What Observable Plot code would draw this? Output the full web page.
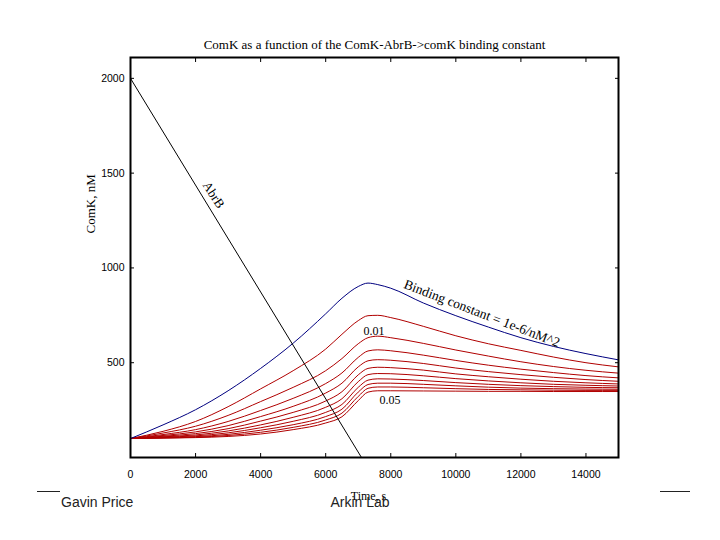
<!DOCTYPE html>
<html>
<head>
<meta charset="utf-8">
<script src="https://cdn.jsdelivr.net/npm/d3@7"></script>
<script src="https://cdn.jsdelivr.net/npm/@observablehq/plot@0.6"></script>
<style>
  html, body { margin: 0; padding: 0; background: #fff; }
  #chart { position: relative; width: 720px; height: 540px; }
</style>
</head>
<body>
<div id="chart"></div>
<script>
// Time points (s)
const times = [0, 1000, 2000, 3000, 4000, 5000, 6000, 6500, 7000, 7300, 7600, 8000, 9000, 10000, 11000, 12000, 13000, 14000, 15000];

// ComK for binding constant = 1e-6/nM^2 (blue)
const comkBase = [100, 172, 252, 352, 470, 603, 758, 840, 902, 920, 912, 893, 815, 748, 688, 632, 586, 548, 515];

// ComK for increasing binding constants (red), 0.005 ... 0.05
const bindingConstants = [0.005, 0.01, 0.015, 0.02, 0.025, 0.03, 0.035, 0.04, 0.045, 0.05];
const comkRed = [
  [100, 138, 190, 268, 362, 458, 572, 650, 722, 748, 750, 738, 692, 642, 600, 565, 530, 500, 478],
  [100, 129, 165, 222, 295, 370, 458, 522, 600, 632, 640, 632, 602, 567, 535, 505, 480, 460, 445],
  [100, 121, 147, 190, 248, 312, 390, 446, 528, 562, 568, 563, 540, 512, 487, 466, 448, 432, 420],
  [100, 116, 135, 168, 216, 270, 340, 392, 478, 510, 516, 513, 496, 472, 453, 437, 423, 411, 402],
  [100, 112, 126, 152, 192, 238, 298, 347, 436, 470, 476, 474, 461, 441, 426, 413, 402, 394, 388],
  [100, 109, 119, 140, 172, 212, 265, 310, 400, 437, 443, 442, 431, 416, 404, 394, 386, 381, 377],
  [100, 107, 114, 130, 157, 191, 238, 280, 370, 408, 415, 414, 406, 395, 386, 379, 374, 370, 368],
  [100, 105, 110, 122, 144, 173, 216, 255, 345, 385, 392, 392, 386, 378, 371, 366, 363, 361, 360],
  [100, 103, 107, 116, 133, 159, 198, 234, 322, 365, 372, 372, 368, 363, 359, 357, 355, 354, 354],
  [100, 102, 105, 111, 124, 147, 182, 215, 300, 345, 352, 352, 351, 350, 349, 349, 348, 348, 348]
];

// AbrB (linear decline)
const abrbTimes = [0, 7100];
const abrbValues = [2000, 0];

// Axis ticks
const xTicks = [0, 2000, 4000, 6000, 8000, 10000, 12000, 14000];
const yTicks = [500, 1000, 1500, 2000];

const titleText = "ComK as a function of the ComK-AbrB->comK binding constant";
const yLabel = "ComK, nM";
const xLabel = "Time, s";

// Build tables
const blueData = times.map((t, i) => ({t, v: comkBase[i]}));
const redData = comkRed.flatMap((row, k) => row.map((v, i) => ({t: times[i], v, k: bindingConstants[k]})));
const abrbData = abrbTimes.map((t, i) => ({t, v: abrbValues[i]}));

const serif = "'Liberation Serif', 'Times New Roman', serif";
const sans = "'Liberation Sans', Arial, sans-serif";

const chart = Plot.plot({
  width: 720,
  height: 540,
  marginLeft: 130,
  marginRight: 102,
  marginTop: 57,
  marginBottom: 83,
  style: {fontFamily: sans, fontSize: "10.5px", background: "#fff", color: "#000", overflow: "visible"},
  x: {domain: [0, 15000]},
  y: {domain: [0, 2110]},
  marks: [
    Plot.line(redData, {x: "t", y: "v", z: "k", stroke: "#b00000", strokeWidth: 1, curve: "monotone-x"}),
    Plot.line(blueData, {x: "t", y: "v", stroke: "#000080", strokeWidth: 1, curve: "monotone-x"}),
    Plot.line(abrbData, {x: "t", y: "v", stroke: "#000", strokeWidth: 1, clip: true}),
    Plot.frame({stroke: "#000", strokeWidth: 2}),
    Plot.axisX({anchor: "bottom", ticks: xTicks, tickSize: -4, tickPadding: 17, tickFormat: d => String(d), label: null, fontSize: 10.5}),
    Plot.axisX({anchor: "top", ticks: xTicks, tickSize: -4, tickFormat: () => "", label: null}),
    Plot.axisY({anchor: "left", ticks: yTicks, tickSize: -4, tickPadding: 10, tickFormat: d => String(d), label: null, fontSize: 10.5}),
    Plot.axisY({anchor: "right", ticks: yTicks, tickSize: -4, tickFormat: () => "", label: null}),
    // curve annotations
    Plot.text(["AbrB"], {x: 2554, y: 1385, text: d => d, rotate: 57, fontFamily: serif, fontSize: 13}),
    Plot.text(["Binding constant = 1e-6/nM^2"], {x: 10800, y: 760, text: d => d, rotate: 21, fontFamily: serif, fontSize: 13.5}),
    Plot.text(["0.01"], {x: 7486, y: 665, text: d => d, fontFamily: serif, fontSize: 12}),
    Plot.text(["0.05"], {x: 7980, y: 302, text: d => d, fontFamily: serif, fontSize: 12}),
    // title and axis labels
    Plot.text([titleText], {frameAnchor: "top", dy: -18, text: d => d, fontFamily: serif, fontSize: 13}),
    Plot.text([yLabel], {frameAnchor: "left", dx: -40, dy: -24, rotate: -90, text: d => d, fontFamily: serif, fontSize: 13}),
    Plot.text([xLabel], {frameAnchor: "bottom", dx: -6, dy: 42, text: d => d, fontFamily: serif, fontSize: 12})
  ]
});
chart.style.position = "absolute";
chart.style.left = "0px";
chart.style.top = "0px";
document.getElementById("chart").appendChild(chart);

// Slide footer
const footer = [
  {text: "Gavin Price", left: 61, top: 494, anchor: "start"},
  {text: "Arkin Lab", left: 360, top: 494, anchor: "middle"}
];
const root = document.getElementById("chart");
for (const f of footer) {
  const d = document.createElement("div");
  d.textContent = f.text;
  d.style.cssText = `position:absolute;top:${f.top}px;font:14px ${sans};color:#222;white-space:nowrap;` +
    (f.anchor === "middle" ? `left:${f.left}px;transform:translateX(-50%);` : `left:${f.left}px;`);
  root.appendChild(d);
}
for (const r of [{left: 37, width: 23}, {left: 660, width: 30}]) {
  const d = document.createElement("div");
  d.style.cssText = `position:absolute;top:491px;left:${r.left}px;width:${r.width}px;height:1px;background:#222;`;
  root.appendChild(d);
}
</script>
</body>
</html>
